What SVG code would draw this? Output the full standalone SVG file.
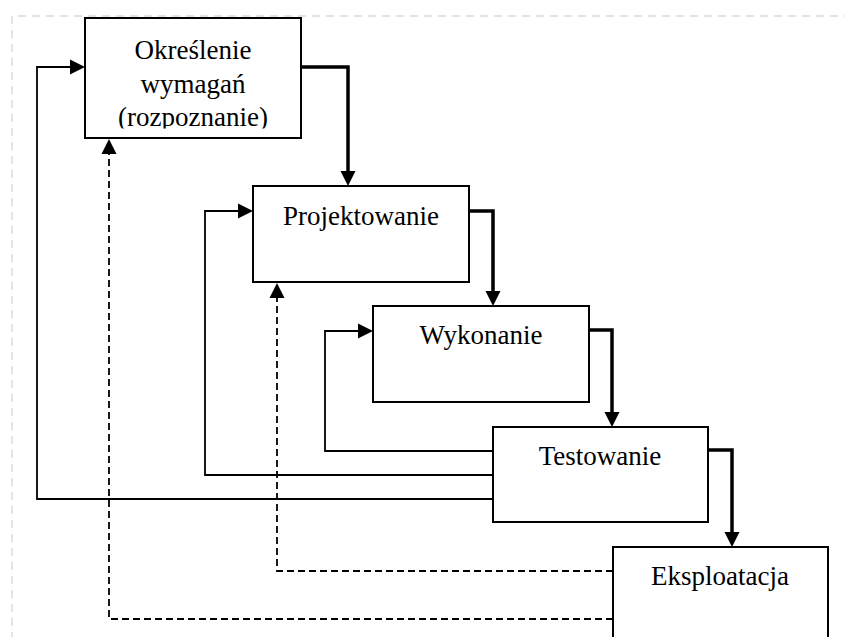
<svg xmlns="http://www.w3.org/2000/svg" width="845" height="637" viewBox="0 0 845 637">
<style>
.box{fill:#fff;stroke:#000;stroke-width:2}
.lbl{font-family:"Liberation Serif","Times New Roman",serif;font-size:27px;fill:#000;text-anchor:middle}
.thick{fill:none;stroke:#000;stroke-width:3.5}
.thin{fill:none;stroke:#000;stroke-width:1.8}
.dash{fill:none;stroke:#000;stroke-width:1.8;stroke-dasharray:7 4}
.frame{fill:none;stroke:#dcdcdc;stroke-width:1.5;stroke-dasharray:8 6}
</style>
<defs>
<marker id="arr" markerUnits="userSpaceOnUse" markerWidth="16" markerHeight="16" refX="5" refY="7.5" orient="auto" overflow="visible">
<path d="M0,0 L15,7.5 L0,15 z" fill="#000"/>
</marker>
<clipPath id="c1"><rect x="85" y="18" width="216" height="110.5"/></clipPath>
</defs>
<rect width="845" height="637" fill="#fff"/>
<path class="frame" d="M12,640 V16 H845"/>
<g id="n1">
<rect class="box" x="85" y="18" width="216" height="120"/>
<g clip-path="url(#c1)">
<text class="lbl" x="193" y="59">Określenie</text>
<text class="lbl" x="193" y="92.5">wymagań</text>
<text class="lbl" x="193" y="126">(rozpoznanie)</text>
</g>
</g>
<g id="n2">
<rect class="box" x="253" y="186" width="216" height="96"/>
<text class="lbl" x="361" y="225">Projektowanie</text>
</g>
<g id="n3">
<rect class="box" x="373" y="306" width="216" height="96"/>
<text class="lbl" x="481" y="344">Wykonanie</text>
</g>
<g id="n4">
<rect class="box" x="493" y="427" width="215" height="95"/>
<text class="lbl" x="600" y="465">Testowanie</text>
</g>
<g id="n5">
<rect class="box" x="613" y="547" width="215" height="100"/>
<text class="lbl" x="720" y="585">Eksploatacja</text>
</g>
<g id="connectors">
<path class="thick" d="M301,67 H348 V176" marker-end="url(#arr)"/>
<path class="thick" d="M469,211 H493 V296" marker-end="url(#arr)"/>
<path class="thick" d="M589,330 H612 V417" marker-end="url(#arr)"/>
<path class="thick" d="M708,450 H732 V537" marker-end="url(#arr)"/>
<path class="thin" d="M493,451 H325 V331 H363" marker-end="url(#arr)"/>
<path class="thin" d="M493,475 H205 V211 H243" marker-end="url(#arr)"/>
<path class="thin" d="M493,499 H37 V67 H75" marker-end="url(#arr)"/>
<path class="dash" d="M613,571 H277 V293" marker-end="url(#arr)"/>
<path class="dash" d="M613,619 H109 V149" marker-end="url(#arr)"/>
</g>
</svg>
